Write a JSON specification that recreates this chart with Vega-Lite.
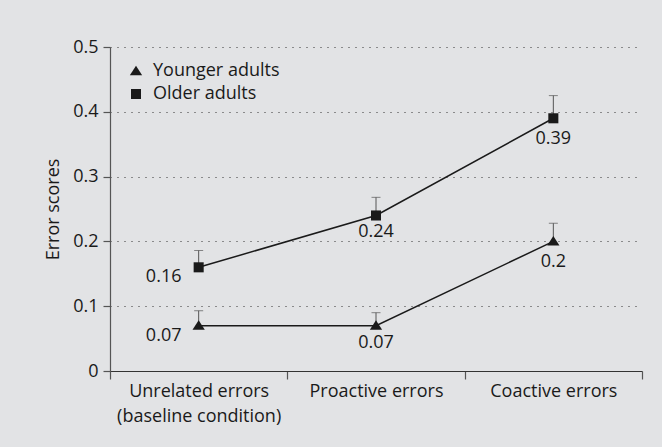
{
  "$schema": "https://vega.github.io/schema/vega-lite/v6.json",
  "width": 532,
  "height": 324,
  "autosize": {"type": "none"},
  "padding": {"left": 110, "top": 47, "right": 20, "bottom": 76},
  "background": "#e2e3e5",
  "config": {
    "view": {"stroke": null},
    "font": "Open Sans",
    "axis": {"labelColor": "#1a1a1a", "titleColor": "#1a1a1a", "labelFont": "Open Sans", "titleFont": "Open Sans"},
    "legend": {"labelFont": "Open Sans"}
  },
  "data": {
    "values": [
      {"condition": "Unrelated errors (baseline condition)", "group": "Younger adults", "score": 0.07, "upper": 0.093},
      {"condition": "Proactive errors", "group": "Younger adults", "score": 0.07, "upper": 0.09},
      {"condition": "Coactive errors", "group": "Younger adults", "score": 0.2, "upper": 0.228},
      {"condition": "Unrelated errors (baseline condition)", "group": "Older adults", "score": 0.16, "upper": 0.186},
      {"condition": "Proactive errors", "group": "Older adults", "score": 0.24, "upper": 0.268},
      {"condition": "Coactive errors", "group": "Older adults", "score": 0.39, "upper": 0.425}
    ]
  },
  "encoding": {
    "x": {
      "field": "condition",
      "type": "nominal",
      "sort": ["Unrelated errors (baseline condition)", "Proactive errors", "Coactive errors"],
      "scale": {"paddingInner": 0, "paddingOuter": 0},
      "axis": {
        "title": null,
        "labelAngle": 0,
        "tickBand": "extent",
        "tickSize": 8,
        "tickColor": "#555",
        "tickWidth": 1.2,
        "domainColor": "#333",
        "domainWidth": 1.2,
        "labelPadding": 3,
        "labelFontSize": 18,
        "labelLineHeight": 25,
        "labelExpr": "datum.label == 'Unrelated errors (baseline condition)' ? ['Unrelated errors', '(baseline condition)'] : datum.label"
      }
    }
  },
  "layer": [
    {
      "mark": {"type": "rule", "color": "#555", "strokeWidth": 1},
      "encoding": {
        "y": {
          "field": "score",
          "type": "quantitative",
          "scale": {"domain": [0, 0.5], "nice": false},
          "axis": {
            "title": "Error scores",
            "titleFontSize": 18,
            "titleFontWeight": "normal",
            "titlePadding": 10,
            "values": [0, 0.1, 0.2, 0.3, 0.4, 0.5],
            "labelExpr": "datum.value == 0 ? '0' : format(datum.value, '.1f')",
            "labelFontSize": 18,
            "labelPadding": 5,
            "tickSize": 7,
            "tickColor": "#555",
            "tickWidth": 1.2,
            "domainColor": "#555",
            "domainWidth": 1.2,
            "grid": true,
            "gridColor": "#333",
            "gridDash": [1, 6],
            "gridWidth": 1.1
          }
        },
        "y2": {"field": "upper"}
      }
    },
    {
      "mark": {"type": "tick", "color": "#555", "size": 9, "thickness": 1},
      "encoding": {"y": {"field": "upper", "type": "quantitative"}}
    },
    {
      "mark": {"type": "line", "color": "#1a1a1a", "strokeWidth": 1.5},
      "encoding": {
        "y": {"field": "score", "type": "quantitative"},
        "detail": {"field": "group", "type": "nominal"}
      }
    },
    {
      "mark": {"type": "point", "filled": true, "opacity": 1, "color": "#1a1a1a", "size": 125},
      "encoding": {
        "y": {"field": "score", "type": "quantitative"},
        "shape": {
          "field": "group",
          "type": "nominal",
          "scale": {
            "domain": ["Younger adults", "Older adults"],
            "range": ["M-1.1,0.75L1.1,0.75L0,-0.95Z", "M-0.9,-0.9L0.9,-0.9L0.9,0.9L-0.9,0.9Z"]
          },
          "legend": {
            "orient": "none",
            "legendX": 17,
            "legendY": 15,
            "title": null,
            "labelFontSize": 18,
            "labelColor": "#1a1a1a",
            "symbolSize": 125,
            "symbolFillColor": "#1a1a1a",
            "symbolStrokeColor": "#1a1a1a",
            "symbolStrokeWidth": 0,
            "symbolOpacity": 1,
            "rowPadding": 5,
            "labelOffset": 8,
            "padding": 0
          }
        }
      }
    },
    {
      "transform": [{"filter": "datum.condition == 'Unrelated errors (baseline condition)'"}],
      "mark": {"type": "text", "fontSize": 18, "color": "#1a1a1a", "dx": -35, "dy": 10, "baseline": "middle"},
      "encoding": {
        "y": {"field": "score", "type": "quantitative"},
        "text": {"field": "score", "type": "quantitative", "format": ".2~f"}
      }
    },
    {
      "transform": [{"filter": "datum.condition == 'Proactive errors'"}],
      "mark": {"type": "text", "fontSize": 18, "color": "#1a1a1a", "dy": 17, "baseline": "middle"},
      "encoding": {
        "y": {"field": "score", "type": "quantitative"},
        "text": {"field": "score", "type": "quantitative", "format": ".2~f"}
      }
    },
    {
      "transform": [{"filter": "datum.condition == 'Coactive errors'"}],
      "mark": {"type": "text", "fontSize": 18, "color": "#1a1a1a", "dy": 21, "baseline": "middle"},
      "encoding": {
        "y": {"field": "score", "type": "quantitative"},
        "text": {"field": "score", "type": "quantitative", "format": ".2~f"}
      }
    }
  ]
}
